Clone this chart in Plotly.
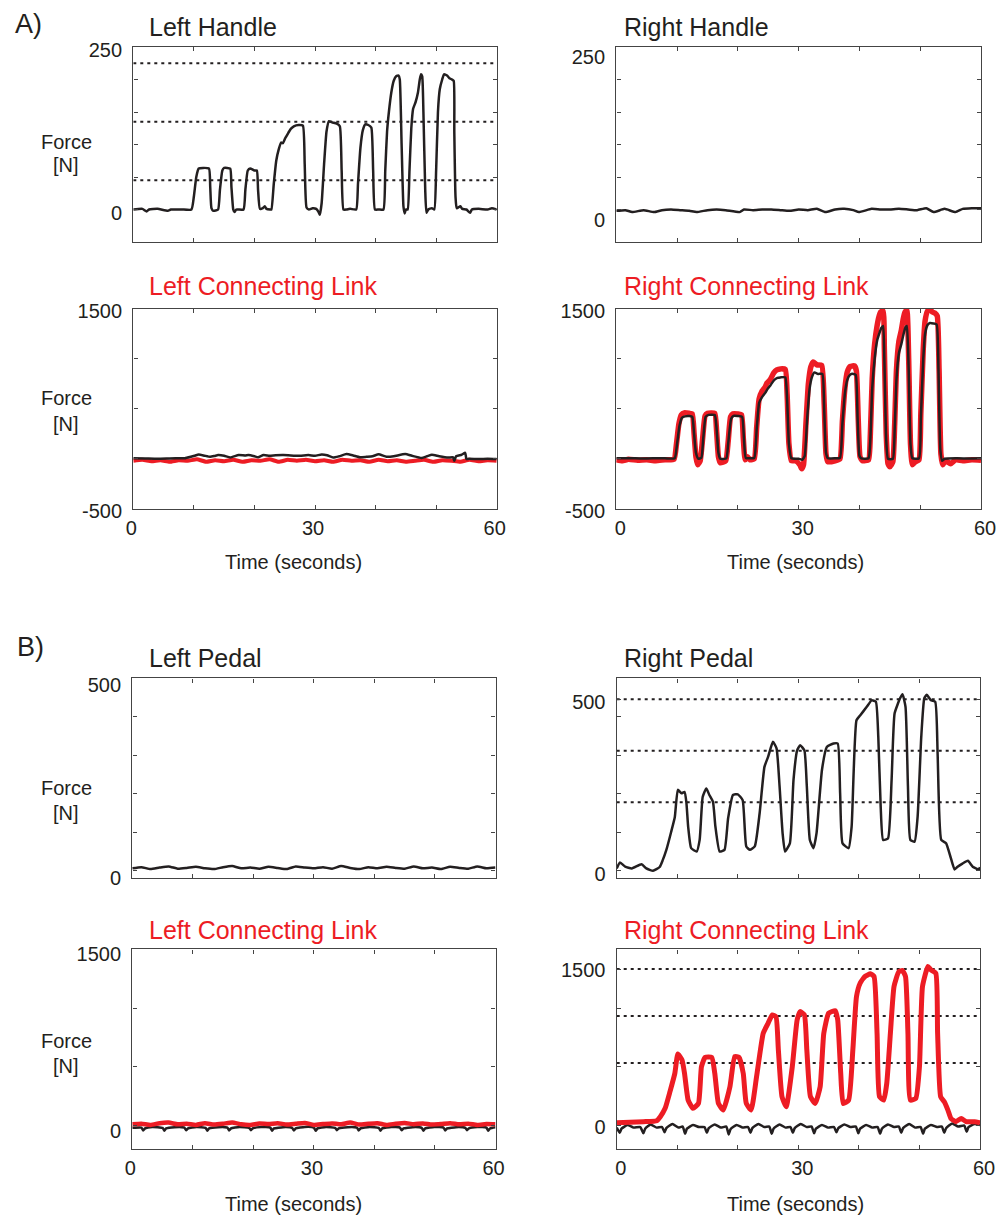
import plotly.graph_objects as go

W, H = 1002, 1216
INK = "#231f20"
RED = "#ed1c24"
FRAME = "#444444"
FONT = "Liberation Sans, Arial, Helvetica, sans-serif"

# ---------------- data ----------------
time_ticks = [0, 10, 20, 30, 40, 50, 60]
time_labels = ["0", "", "", "30", "", "", "60"]

# A) handle trial
left_handle_t = [0, 1.5, 2.2, 2.6, 4.0, 5.7, 6.2, 8.0, 9.6, 10.0, 10.4, 10.8, 11.5, 12.5, 12.7, 12.9, 13.2,
                 14.0, 14.3, 14.7, 15.0, 16.0, 16.2, 16.5, 16.7, 17.0,
                 18.2, 18.5, 18.9, 19.3, 20.0, 20.4, 20.6, 20.9, 21.4, 21.7, 22.0, 22.6,
                 22.8, 23.2, 23.6, 24.0, 24.4, 24.7, 25.1, 25.6, 26.0, 26.5, 27.3, 28.0, 28.3, 28.6, 29.0, 29.6,
                 30.2, 30.6, 30.8, 31.1, 31.5, 31.9, 32.3, 32.8, 33.6, 34.1, 34.4, 34.7, 35.2, 35.8,
                 36.8, 37.1, 37.5, 37.9, 38.3, 38.8, 39.3, 39.6, 39.9, 40.5, 41.3,
                 41.6, 41.9, 42.2, 42.6, 43.0, 43.4, 43.8, 44.0, 44.3, 44.6, 44.8, 45.0, 45.3,
                 45.6, 45.9, 46.2, 46.6, 47.0, 47.3, 47.5, 47.7, 47.9, 48.2, 48.4, 48.7, 49.3, 49.7,
                 50.0, 50.3, 50.6, 51.0, 51.3, 51.8, 52.2, 52.6, 52.9, 53.0, 53.2, 53.4, 54.0, 54.3,
                 55.0, 55.6, 55.9, 57.0, 58.5, 59.2, 60.0]
left_handle_f = [0, 1, -3, 0, 1, -2, 0, 0, 0, 20, 50, 63, 64, 63, 35, 2, -2,
                 0, 30, 60, 64, 63, 35, 0, -4, 0,
                 0, 30, 60, 63, 60, 60, 30, 1, 2, 5, 1, 0,
                 0, 40, 75, 92, 103, 102, 110, 118, 124, 128, 130, 129, 70, 3, 0, 2,
                 1, -4, -8, 10, 70, 120, 136, 134, 132, 128, 60, 0, 0, 1,
                 0, 40, 95, 122, 131, 130, 126, 60, 0, 0, 0,
                 60, 120, 150, 180, 198, 205, 206, 200, 100, 5, -6, 0, 0,
                 60, 125, 155, 165, 180, 200, 208, 205, 150, 30, -5, 0, 2, 0,
                 60, 150, 185, 200, 208, 206, 202, 200, 198, 120, 20, 2, 5, 1,
                 0, -5, 0, 1, 0, 2, 0]
handle_targets = [45, 135, 225]

right_handle_t = [0, 1.5, 2.6, 4.5, 6.2, 7.5, 9, 10.5, 12, 13.2, 15, 16.5, 18, 20.3, 21, 22.5, 24, 25.5,
                  27, 28.5, 30, 31.5, 33, 34.4, 36, 37.5, 39, 39.9, 42, 43.5, 45, 46.5, 48, 49.5, 51,
                  52.2, 54, 55.8, 57, 58.5, 60]
right_handle_f = [-2, -1, -4, -1, -4, -1, 0, -1, -2, -4, -1, 0, -1, -4, 0, -1, 0, 0,
                  -1, -2, 0, -1, 1, -4, 0, 1, -1, -4, 1, 0, 0, 1, 0, -1, 2,
                  -4, 1, -4, 1, 2, 2]

left_link_a_t = [0, 2, 4, 6, 8, 8.5, 9.5, 10.1, 10.8, 11.8, 12.7, 13.4, 14.0, 15.0, 16.0, 17.4, 18.5, 19.0,
                 20.0, 20.6, 21.5, 22.5, 23.5, 24.8, 26.0, 27.5, 28.9, 30.0, 31.1, 32.0, 33.0, 34.0,
                 35.2, 36.3, 37.4, 38.5, 39.5, 40.5, 41.8, 43.0, 44.9, 46.0, 47.6, 48.5, 49.3, 50.5,
                 52.0, 52.8, 53.0, 53.3, 54.2, 54.8, 55.0, 55.4, 57.0, 58.5, 60]
left_link_a_black = [5, 3, 0, 3, 5, 5, 20, 30, 43, 30, 20, 28, 37, 30, 13, 37, 33, 37,
                     25, 15, 37, 30, 35, 37, 33, 30, 37, 30, 43, 35, 12, 25,
                     47, 33, 15, 20, 25, 45, 20, 25, 47, 30, 8, 25, 40, 25,
                     12, 15, -20, 25, 40, 60, -3, 0, -3, 0, -3]
left_link_a_red_t = [0, 1.5, 3, 4.5, 6, 7.5, 9, 10.5, 12, 13.5, 15, 16.5, 18, 19.5, 21, 22.5, 24, 25.5,
                     27, 28.5, 30, 31.5, 33, 34.5, 36, 37.5, 39, 40.5, 42, 43.5, 45, 46.5, 48, 49.5,
                     51, 52.5, 54, 55.5, 57, 58.5, 60]
left_link_a_red = [-20, -10, -25, -15, -30, -15, -20, -5, -30, -15, -25, -10, -30, -15, -20, -5, -30, -10,
                   -20, -10, -25, -15, -30, -10, -20, -15, -30, -10, -25, -15, -30, -20, -10, -30,
                   -15, -20, -30, -10, -25, -15, -20]

right_link_a_black_t = [0, 2.5, 4.0, 6.0, 8.0, 9.6, 10.0, 10.4, 10.8, 11.3, 12.0, 12.5, 12.8, 13.1, 13.5,
                        14.0, 14.3, 14.7, 15.2, 16.2, 16.5, 16.8, 17.1, 18.1, 18.4, 18.9, 19.3, 20.0,
                        20.7, 21.0, 21.3, 22.0, 22.7, 23.1, 23.5, 24.0, 24.5, 24.9, 25.4, 26.0, 26.5,
                        27.0, 27.8, 28.1, 28.4, 28.8, 30.0, 30.6, 31.0, 31.4, 31.8, 32.2, 32.6, 33.2,
                        33.9, 34.2, 34.5, 34.8, 36.0, 36.8, 37.2, 37.6, 38.0, 38.5, 39.0, 39.4, 39.7,
                        40.0, 40.3, 41.5, 41.8, 42.1, 42.5, 42.9, 43.3, 43.6, 43.9, 44.1, 44.4, 44.7,
                        45.5, 45.8, 46.1, 46.5, 46.9, 47.3, 47.6, 47.8, 48.1, 48.4, 48.7, 49.8, 50.1,
                        50.5, 50.8, 51.2, 51.6, 52.2, 52.7, 53.0, 53.3, 53.6, 54.0, 56.0, 58.0, 60.0]
right_link_a_black = [5, 5, 3, 5, 5, 5, 150, 330, 410, 425, 428, 420, 250, 60, 0,
                      10, 200, 420, 440, 438, 300, 60, 0, 5, 150, 400, 430, 428,
                      420, 200, 10, 5, 10, 300, 560, 620, 660, 700, 740, 790, 810,
                      815, 815, 600, 150, 5, 0, -10, 30, 400, 700, 820, 865, 850,
                      850, 500, 60, 5, 5, 10, 350, 650, 790, 845, 850, 840, 400,
                      30, 5, 5, 200, 700, 1000, 1180, 1260, 1310, 1330, 1000, 200, 0,
                      0, 300, 800, 1060, 1150, 1260, 1320, 1330, 900, 150, 5, 5, 400,
                      1000, 1250, 1340, 1360, 1355, 1345, 900, 100, -20, 0, 5, 3, 5]
right_link_a_red_t = [0, 1.0, 2.0, 3.5, 5.0, 6.5, 8.0, 9.5, 9.9, 10.3, 10.7, 11.2, 12.0, 12.5, 12.8, 13.1,
                      13.4, 13.8, 14.2, 14.6, 15.0, 16.2, 16.5, 16.8, 17.1, 18.0, 18.4, 18.8, 19.2,
                      20.0, 20.6, 20.9, 21.2, 21.6, 22.0, 22.7, 23.1, 23.5, 24.0, 24.5, 24.8, 25.3,
                      25.9, 26.4, 27.0, 27.8, 28.1, 28.4, 28.8, 29.5, 30.2, 30.5, 30.8, 31.2, 31.6,
                      32.0, 32.4, 33.0, 33.8, 34.2, 34.5, 34.8, 36.0, 36.8, 37.2, 37.6, 38.0, 38.5,
                      39.2, 39.5, 39.8, 40.1, 40.5, 41.5, 41.8, 42.1, 42.5, 42.9, 43.2, 43.5, 43.9,
                      44.1, 44.4, 44.7, 45.0, 45.5, 45.8, 46.1, 46.5, 46.9, 47.2, 47.5, 47.8, 48.1,
                      48.4, 48.7, 49.2, 49.8, 50.1, 50.5, 50.8, 51.2, 51.6, 52.0, 52.4, 52.8, 53.1,
                      53.4, 53.7, 54.2, 55.0, 55.8, 57.0, 58.5, 60.0]
right_link_a_red = [-10, -20, -5, -15, -10, -20, -10, -5, 150, 350, 440, 460, 455, 450, 250, 20,
                    -60, -20, 200, 430, 455, 455, 280, 20, -40, -20, 170, 420, 450,
                    448, 440, 200, -10, 20, -10, 0, 320, 600, 680, 720, 760, 790,
                    860, 890, 900, 895, 650, 150, -20, -20, -60, -100, -60, 350, 750,
                    920, 970, 940, 935, 550, 50, -30, -20, 0, 380, 700, 870, 925,
                    930, 880, 400, 20, -20, -10, 250, 800, 1150, 1330, 1420, 1470, 1480,
                    1100, 250, -50, -80, -30, 350, 900, 1180, 1290, 1400, 1470, 1490, 1000,
                    150, -60, -30, -10, 450, 1100, 1380, 1480, 1495, 1470, 1460, 1430, 900,
                    50, -60, -20, -50, -10, -20, -10, -15]

# B) pedal trial
left_pedal_t = [0, 1.5, 3, 4.5, 6, 7.5, 9, 10.5, 12, 13.5, 15, 16.5, 18, 19.5, 21, 22.5, 24, 25.5,
                27, 28.5, 30, 31.5, 33, 34.5, 36, 37.5, 39, 40.5, 42, 43.5, 45, 46.5, 48, 49.5,
                51, 52.5, 54, 55.5, 57, 58.5, 60]
left_pedal_f = [6, 9, 4, 8, 11, 5, 7, 10, 6, 4, 9, 12, 6, 8, 5, 10, 7, 4,
                11, 8, 6, 9, 5, 12, 7, 4, 9, 6, 10, 7, 5, 11, 6, 8,
                4, 10, 7, 5, 11, 6, 8]

right_pedal_t = [0, 0.55, 1.4, 2.5, 4.1, 4.9, 6.0, 7.1, 7.6, 8.2, 9.0, 9.6, 10.1, 10.7, 11.2, 11.5,
                 11.8, 12.3, 13.2, 13.7, 14.2, 14.8, 15.3, 15.9, 16.3, 17.0, 17.8, 18.4, 19.2,
                 20.0, 20.8, 21.4, 22.0, 22.8, 23.6, 24.4, 25.0, 25.8, 26.4, 26.9, 27.4, 27.8,
                 28.6, 29.2, 29.8, 30.3, 31.0, 31.4, 31.9, 32.5, 33.0, 33.9, 34.7, 35.8, 36.5,
                 36.9, 37.3, 38.3, 38.8, 39.6, 40.2, 41.3, 42.1, 42.8, 43.2, 43.6, 44.0, 44.8,
                 45.4, 45.9, 46.8, 47.2, 47.7, 48.1, 48.5, 49.2, 49.7, 50.3, 50.8, 51.2, 51.9,
                 52.6, 53.0, 53.6, 54.4, 55.2, 55.8, 56.3, 57.1, 58.0, 58.8, 59.8, 60.0]
right_pedal_f = [7, 24, 12, 7, 19, 7, 0, 11, 31, 61, 114, 157, 236, 226, 230, 201,
                 129, 66, 56, 90, 215, 240, 221, 201, 129, 56, 61, 153, 221,
                 223, 206, 71, 61, 71, 167, 303, 332, 376, 357, 246, 109, 56,
                 80, 265, 351, 366, 351, 246, 90, 66, 109, 294, 361, 371, 371,
                 226, 80, 66, 129, 439, 453, 478, 497, 493, 391, 186, 90, 94,
                 265, 459, 503, 515, 478, 246, 90, 85, 158, 391, 503, 513, 497,
                 493, 342, 90, 80, 36, 4, 12, 21, 29, 12, 4, 10]
pedal_targets = [200, 350, 500]

left_link_b_red_t = left_pedal_t
left_link_b_red = [10, 15, 5, 20, 25, 10, 15, 5, 20, 8, 15, 25, 10, 5, 18, 12, 20, 8,
                   15, 22, 5, 12, 18, 10, 25, 8, 15, 20, 5, 15, 22, 10, 18, 8,
                   12, 20, 10, 15, 5, 12, 10]
left_link_b_black_t = [0, 1.5, 1.8, 2.1, 3.3, 5.0, 5.3, 5.6, 7.0, 8.6, 8.9, 9.2, 10.6, 12.1, 12.4, 12.7,
                       14.2, 15.7, 16.0, 16.3, 17.7, 19.3, 19.6, 19.9, 21.3, 22.8, 23.1, 23.4, 24.9,
                       26.4, 26.7, 27.0, 28.5, 30.0, 30.3, 30.6, 32.0, 33.5, 33.8, 34.1, 35.6, 37.1,
                       37.4, 37.7, 39.2, 40.7, 41.0, 41.3, 42.8, 44.2, 44.5, 44.8, 46.3, 47.8, 48.1,
                       48.4, 49.9, 51.4, 51.7, 52.0, 53.5, 55.0, 55.3, 55.6, 57.0, 58.5, 58.8, 59.1, 60]
left_link_b_black = [-20, -18, -42, -25, -12, -20, -44, -24, -14, -18, -40, -25, -12, -20, -45, -24,
                     -14, -18, -42, -25, -12, -20, -40, -24, -12, -18, -44, -25, -14,
                     -20, -42, -24, -12, -18, -45, -25, -12, -20, -40, -24, -14, -18,
                     -42, -25, -12, -20, -44, -24, -12, -18, -40, -25, -14, -20, -45,
                     -24, -12, -18, -42, -25, -14, -20, -40, -24, -12, -18, -44, -25, -15]

right_link_b_red_t = [0, 4.4, 6.6, 7.2, 8.0, 8.8, 9.6, 10.1, 10.8, 11.2, 11.8, 12.6, 13.5, 14.0, 14.6,
                      15.7, 16.2, 16.8, 17.6, 18.7, 19.5, 20.2, 20.9, 21.4, 22.2, 23.1, 24.2, 25.0,
                      25.7, 26.3, 26.7, 27.3, 28.0, 29.0, 29.8, 30.3, 31.0, 31.4, 32.0, 32.8, 33.6,
                      34.2, 35.0, 36.1, 36.5, 37.0, 37.4, 38.3, 39.0, 39.6, 40.2, 41.0, 41.9, 42.5,
                      43.0, 43.4, 44.1, 44.6, 45.2, 45.8, 46.6, 47.2, 47.7, 48.1, 48.5, 49.4, 50.0,
                      50.5, 51.4, 51.9, 52.7, 53.0, 53.5, 54.1, 54.7, 55.2, 56.0, 56.9, 57.7, 59.1, 60.0]
right_link_b_red = [27, 37, 46, 85, 165, 325, 500, 685, 627, 500, 244, 165, 212, 564, 653,
                    653, 500, 212, 148, 372, 660, 653, 500, 212, 148, 468, 884, 980,
                    1060, 1044, 724, 276, 180, 564, 1012, 1092, 1060, 724, 276, 212, 372,
                    884, 1076, 1101, 1012, 500, 212, 244, 724, 1236, 1364, 1428, 1454, 1428,
                    884, 276, 244, 404, 884, 1332, 1476, 1485, 1428, 884, 244, 260, 564,
                    1332, 1524, 1492, 1460, 884, 276, 228, 148, 68, 37, 68, 37, 37, 27]
right_link_b_black_t = [0, 0.5, 0.8, 1.8, 2.8, 3.9, 4.4, 4.7, 5.6, 6.6, 7.5, 7.9, 8.2, 9.2, 10.2,
                        10.9, 11.3, 11.6, 12.6, 13.6, 14.5, 14.9, 15.2, 16.2, 17.2, 18.1, 18.5, 18.8,
                        19.8, 20.8, 21.7, 22.1, 22.4, 23.4, 24.4, 25.2, 25.6, 25.9, 26.9, 27.9, 28.7,
                        29.1, 29.4, 30.4, 31.4, 32.2, 32.6, 32.9, 33.9, 34.9, 35.9, 36.3, 36.6, 37.6,
                        38.6, 39.5, 39.9, 40.2, 41.2, 42.2, 43.1, 43.5, 43.8, 44.8, 45.8, 46.6, 47.0,
                        47.3, 48.3, 49.3, 50.2, 50.6, 50.9, 51.9, 52.9, 53.7, 54.1, 54.4, 55.4, 56.4,
                        57.4, 57.8, 58.1, 59.1, 60.0]
right_link_b_black = [-20, -70, -30, 5, -20, -15, -75, -30, 10, -20, -15, -65, -25, 15, -20,
                      -10, -80, -30, 5, -15, -15, -70, -25, 10, -20, -10, -85, -35,
                      5, -20, -15, -70, -25, 15, -15, -10, -80, -30, 10, -20, -15,
                      -70, -25, 15, -15, -10, -75, -30, 5, -20, -15, -65, -25, 10,
                      -15, -10, -75, -30, 5, -20, -15, -80, -30, 10, -15, -10, -70,
                      -25, 15, -20, -15, -80, -30, 5, -15, -10, -70, -25, 20, -10,
                      0, -60, -15, 15, 5]
link_targets_b = [600, 1050, 1500]

# ---------------- panel layout (pixels) ----------------
def xdom(a, b):
    return [a / W, b / W]


def ydom(top, bottom):
    return [1 - bottom / H, 1 - top / H]


panels = {
    # key: (x0, x1, y_top, y_bottom, yrange, tickvals, ticktext, label shift, show time labels, time shift)
    1: (133.3, 496.7, 47, 242, [-50, 250], [-50, 0, 50, 100, 150, 200, 250],
        ["", "0", "", "", "", "", "250"], 3, False, 0),
    2: (616.3, 981, 47, 242, [-50, 250], [-50, 0, 50, 100, 150, 200, 250],
        ["", "0", "", "", "", "", "250"], 10, False, 0),
    3: (133.3, 496.7, 309, 508.7, [-500, 1500], [-500, 0, 500, 1000, 1500],
        ["-500", "", "", "", "1500"], 2, True, -2),
    4: (616.3, 981, 309, 508.7, [-500, 1500], [-500, 0, 500, 1000, 1500],
        ["-500", "", "", "", "1500"], 2, True, 4),
    5: (132.3, 495.5, 678.3, 878.3, [-20, 500.5], [0, 100, 200, 300, 400, 500],
        ["0", "", "", "", "", "500"], 7, False, 0),
    6: (616.7, 980, 678.3, 878.3, [-21.9, 561.2], [0, 112.2, 224.5, 336.7, 449, 500, 561.2],
        ["0", "", "", "", "", "500", ""], 3, False, 0),
    7: (132.3, 495.5, 949.3, 1149, [-200, 1500], [-200, 0, 500, 1000, 1500],
        ["", "0", "", "", "1500"], 5, True, -2),
    8: (616.7, 980, 949.3, 1149, [-225, 1689], [0, 563, 1126, 1500, 1689],
        ["0", "", "", "1500", ""], 1, True, 4),
}

fig = go.Figure()
layout = dict(
    template="none",
    width=W, height=H, margin=dict(l=0, r=0, t=0, b=0, pad=0, autoexpand=False),
    paper_bgcolor="white", plot_bgcolor="white", showlegend=False,
    font=dict(family=FONT, color=INK, size=20),
)

axis_common = dict(
    showline=True, linecolor=FRAME, linewidth=1.4, mirror="ticks",
    ticks="inside", ticklen=4, tickwidth=1.2, tickcolor=FRAME,
    showgrid=False, zeroline=False, fixedrange=True, automargin=False,
    tickfont=dict(family=FONT, size=20, color=INK),
)

for idx, (x0, x1, yt, yb, yr, tv, tt, yshift, show_time, tshift) in panels.items():
    xname = "xaxis" if idx == 1 else f"xaxis{idx}"
    yname = "yaxis" if idx == 1 else f"yaxis{idx}"
    layout[xname] = dict(
        axis_common, domain=xdom(x0, x1), range=[0, 60], anchor="y" if idx == 1 else f"y{idx}",
        tickmode="array", tickvals=time_ticks,
        ticktext=time_labels if show_time else [""] * len(time_ticks),
        ticklabelshift=tshift, ticklabelstandoff=1,
    )
    layout[yname] = dict(
        axis_common, domain=ydom(yt, yb), range=yr, anchor="x" if idx == 1 else f"x{idx}",
        tickmode="array", tickvals=tv, ticktext=tt,
        ticklabelshift=yshift, ticklabelstandoff=6,
    )


def ax_refs(idx):
    return ("x", "y") if idx == 1 else (f"x{idx}", f"y{idx}")


def add_line(idx, t, v, color, width, dash=None, smooth=True):
    xr, yr = ax_refs(idx)
    line = dict(color=color, width=width, dash=dash)
    if smooth:
        line.update(shape="spline", smoothing=0.45)
    fig.add_trace(go.Scatter(
        x=t, y=v, mode="lines", xaxis=xr, yaxis=yr, hoverinfo="skip", line=line,
    ))


def add_targets(idx, levels):
    for lvl in levels:
        add_line(idx, [time_ticks[0], time_ticks[-1]], [lvl, lvl], INK, 2, "3px,4px", smooth=False)


# A) handle
add_targets(1, handle_targets)
add_line(1, left_handle_t, left_handle_f, INK, 2.5)
add_line(2, right_handle_t, right_handle_f, INK, 2.5)
add_line(3, left_link_a_red_t, left_link_a_red, RED, 4)
add_line(3, left_link_a_t, left_link_a_black, INK, 2.5)
add_line(4, right_link_a_red_t, right_link_a_red, RED, 5.5)
add_line(4, right_link_a_black_t, right_link_a_black, INK, 2.5)

# B) pedal
add_line(5, left_pedal_t, left_pedal_f, INK, 2.5)
add_targets(6, pedal_targets)
add_line(6, right_pedal_t, right_pedal_f, INK, 2.5)
add_line(7, left_link_b_black_t, left_link_b_black, INK, 2.5)
add_line(7, left_link_b_red_t, left_link_b_red, RED, 4.5)
add_targets(8, link_targets_b)
add_line(8, right_link_b_black_t, right_link_b_black, INK, 2.5)
add_line(8, right_link_b_red_t, right_link_b_red, RED, 5)

# ---------------- text ----------------
annotations = []


def text(x, y, s, size=20, color=INK, xanchor="center"):
    annotations.append(dict(
        x=x / W, y=1 - y / H, xref="paper", yref="paper", text=s, showarrow=False,
        xanchor=xanchor, yanchor="middle", font=dict(family=FONT, size=size, color=color),
    ))


text(13, 24, "A)", size=27, xanchor="left")
text(15, 647, "B)", size=27, xanchor="left")

text(147, 27, "Left Handle", size=25, xanchor="left")
text(622, 27, "Right Handle", size=25, xanchor="left")
text(147, 286, "Left Connecting Link", size=25, color=RED, xanchor="left")
text(622, 286, "Right Connecting Link", size=25, color=RED, xanchor="left")
text(147, 658, "Left Pedal", size=25, xanchor="left")
text(622, 658, "Right Pedal", size=25, xanchor="left")
text(147, 929.5, "Left Connecting Link", size=25, color=RED, xanchor="left")
text(622, 929.5, "Right Connecting Link", size=25, color=RED, xanchor="left")

for yf, yn in [(141.7, 165), (398.3, 424), (788.3, 812.7), (1040.7, 1065.7)]:
    text(66, yf, "Force")
    text(66, yn, "[N]")

for yy in (561.7, 1204):
    text(293, yy, "Time (seconds)")
    text(795, yy, "Time (seconds)")

layout["annotations"] = annotations
fig.update_layout(**layout)

fig.write_html("out.html")
